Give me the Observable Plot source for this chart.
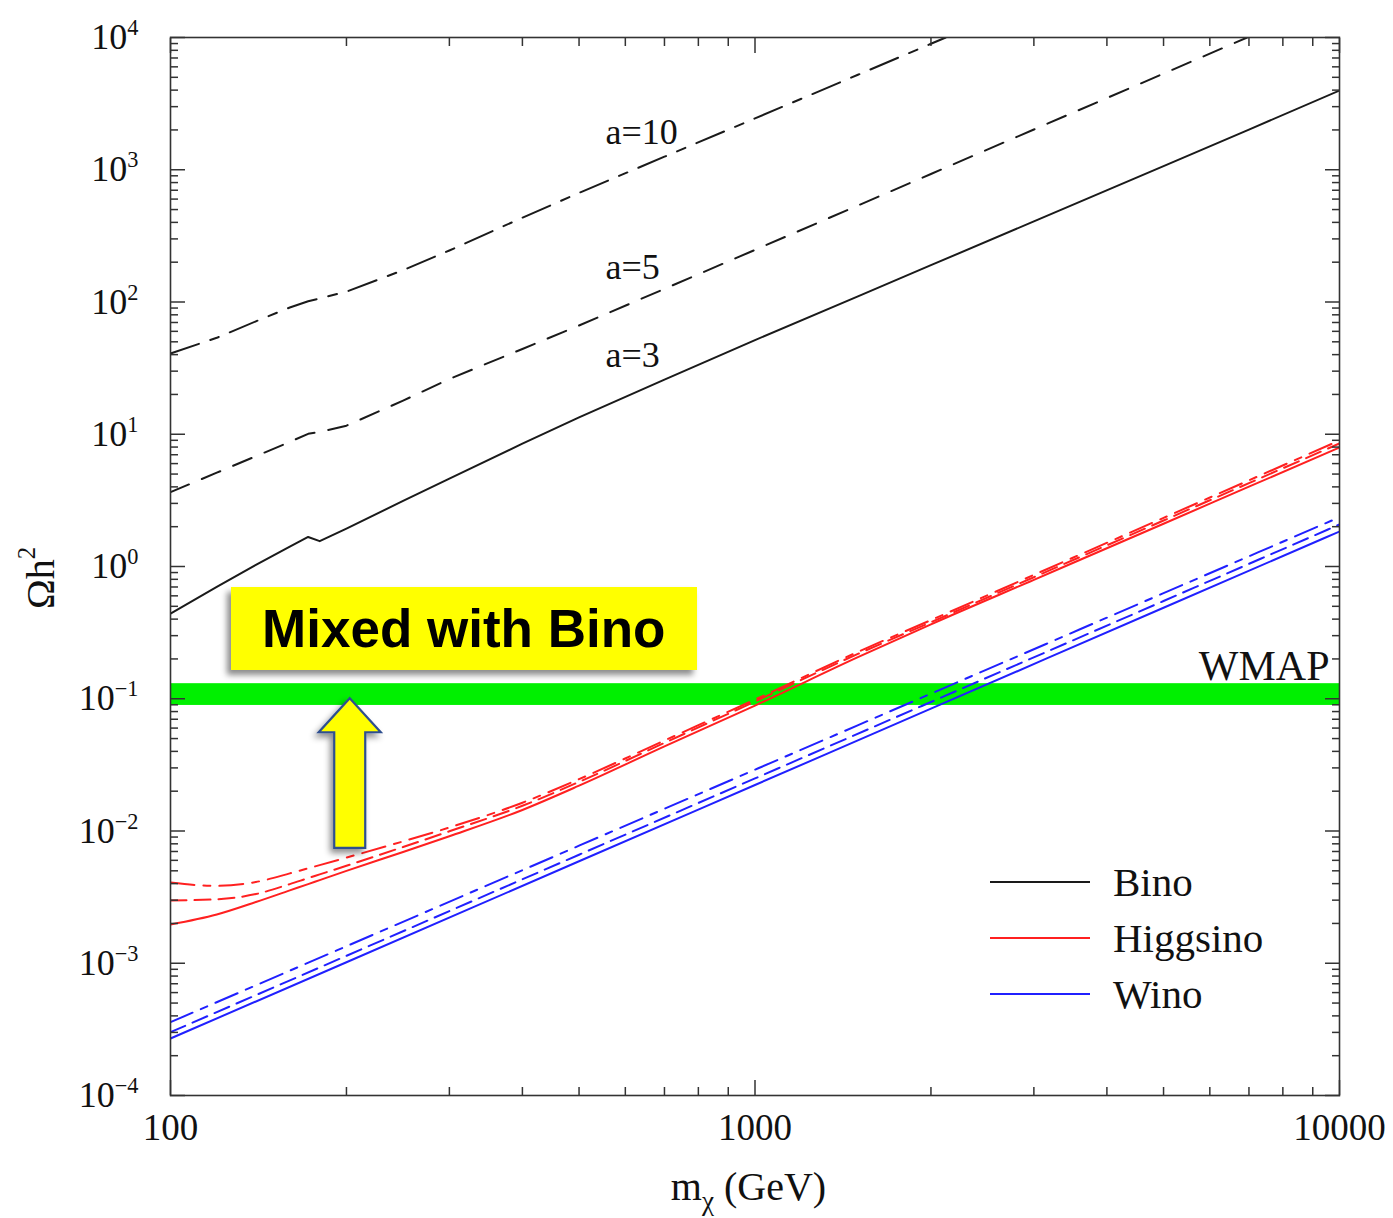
<!DOCTYPE html>
<html>
<head>
<meta charset="utf-8">
<script src="https://cdn.jsdelivr.net/npm/d3@7"></script>
<script src="https://cdn.jsdelivr.net/npm/@observablehq/plot@0.6"></script>
<style>
  html, body { margin: 0; padding: 0; background: #fff; }
  #chart { position: relative; width: 1393px; height: 1218px; }
  #chart svg { display: block; }
  .callout {
    position: absolute;
    background: #ffff00;
    box-shadow: -4px 5px 6px rgba(0, 0, 0, 0.45);
    font: bold 53px "Liberation Sans", Arial, sans-serif;
    color: #000;
    display: flex; align-items: center; justify-content: center;
    white-space: nowrap;
  }
</style>
</head>
<body>
<div id="chart"></div>
<script>
// Relic abundance Omega h^2 versus neutralino mass m_chi (GeV), for three
// enhancement factors a = 3, 5, 10 of a pure Bino, Higgsino and Wino.
// Each series: [mass (GeV), Omega h^2].

const binoA3 = [
  [100, 0.441], [120, 0.701], [140, 1.03], [160, 1.416], [172, 1.672], [180, 1.554],
  [200, 1.934], [250, 3.133], [300, 4.618], [400, 8.486], [500, 13.43], [700, 25.9],
  [1000, 51.5], [1500, 110.4], [2000, 189.8], [3000, 406.9], [5000, 1064], [7000, 2012], [10000, 3974]
];
const binoA5 = [
  [100, 3.646], [120, 5.12], [140, 6.823], [160, 8.755], [172, 10.08], [180, 10.4],
  [200, 11.61], [250, 17.96], [300, 26.17], [400, 44.13], [500, 66.42], [700, 125.7],
  [1000, 247.7], [1500, 536.6], [2000, 928.8], [3000, 2015], [5000, 5333], [6950, 10000]
];
const binoA10 = [
  [100, 40.78], [120, 53.62], [140, 71.46], [160, 90.87], [172, 101.2], [180, 106.3],
  [200, 119.8], [250, 174.0], [300, 245.1], [400, 434.0], [500, 668.3], [700, 1255],
  [1000, 2445], [1500, 5224], [2000, 8963], [2120, 10000]
];

const higgsinoA3 = [
  [100, 0.001963], [120, 0.002336], [140, 0.002904], [160, 0.003556], [172, 0.003968], [180, 0.004253],
  [200, 0.004993], [250, 0.006938], [300, 0.009135], [400, 0.01442], [500, 0.02201], [700, 0.04362],
  [1000, 0.08874], [1500, 0.2062], [2000, 0.3655], [3000, 0.7931], [5000, 2.106], [7000, 4.012], [10000, 7.94]
];
const higgsinoA5 = [
  [100, 0.002981], [120, 0.003045], [140, 0.003334], [160, 0.003968], [172, 0.004404], [180, 0.004697],
  [200, 0.005456], [250, 0.007568], [300, 0.009947], [400, 0.01551], [500, 0.02351], [700, 0.04637],
  [1000, 0.09533], [1500, 0.2183], [2000, 0.3792], [3000, 0.8299], [5000, 2.227], [7000, 4.272], [10000, 8.513]
];
const higgsinoA10 = [
  [100, 0.004079], [120, 0.003846], [140, 0.004115], [160, 0.004779], [172, 0.005224], [180, 0.005523],
  [200, 0.006293], [250, 0.008344], [300, 0.01063], [400, 0.01637], [500, 0.02468], [700, 0.04834],
  [1000, 0.09854], [1500, 0.2261], [2000, 0.3934], [3000, 0.864], [5000, 2.331], [7000, 4.484], [10000, 8.967]
];

const winoA3 = [
  [100, 2.698e-4], [200, 1.018e-3], [500, 5.902e-3], [1000, 0.02228], [2000, 0.08409], [5000, 0.4873], [10000, 1.839]
];
const winoA5 = [
  [100, 3.011e-4], [200, 1.138e-3], [500, 6.617e-3], [1000, 0.02498], [2000, 0.09449], [5000, 0.5483], [10000, 2.078]
];
const winoA10 = [
  [100, 3.583e-4], [200, 1.345e-3], [500, 7.742e-3], [1000, 0.02908], [2000, 0.1092], [5000, 0.6284], [10000, 2.359]
];

// WMAP preferred range of Omega h^2
const wmapBand = [{lo: 0.089, hi: 0.13}];

// Axis ticks
const xMajor = [100, 1000, 10000];
const xMinor = [200, 300, 400, 500, 600, 700, 800, 900, 2000, 3000, 4000, 5000, 6000, 7000, 8000, 9000];
const yExponents = [-4, -3, -2, -1, 0, 1, 2, 3, 4];

// Curve labels and legend entries
const curveLabels = ["a=10", "a=5", "a=3"];
const curveLabelAnchors = [[555, 1930], [555, 184], [555, 39.1]];
const legendNames = ["Bino", "Higgsino", "Wino"];
const legendColors = ["#1a1a1a", "#ff2020", "#2020ff"];

// Callout: "Mixed with Bino" box and an arrow pointing up to the WMAP band
const calloutText = "Mixed with Bino";
const calloutBox = {m1: 127, m2: 797, lo: 0.164, hi: 0.694};
const calloutArrow = {m: 203, tip: 0.1, base: 0.0074};

// ---------------------------------------------------------------------------

const yMajor = yExponents.map(e => Math.pow(10, e));
const yMinor = yExponents.slice(0, -1).flatMap(e => d3.range(2, 10).map(k => k * Math.pow(10, e)));

const SERIF = "'Liberation Serif', 'Times New Roman', serif";
const DASH = "16,8";
const DASHDOT = "24,9,7,9";

const curve = (data, stroke, dash, shape = "monotone-x") =>
  Plot.line(data, {x: d => d[0], y: d => d[1], stroke, strokeWidth: 2,
    strokeDasharray: dash, curve: shape, clip: true});

const tickStyle = {stroke: "#333", strokeWidth: 1.5, tickFormat: () => "", label: null};

const plot = Plot.plot({
  width: 1393,
  height: 1218,
  marginLeft: 170,
  marginRight: 54,
  marginTop: 37,
  marginBottom: 123,
  x: {type: "log", domain: [100, 10000]},
  y: {type: "log", domain: [1e-4, 1e4]},
  style: {fontFamily: SERIF, background: "#fff", color: "#111"},
  marks: [
    Plot.rect(wmapBand, {x1: 100, x2: 10000, y1: "lo", y2: "hi", fill: "#00f000"}),
    Plot.text(wmapBand, {x: 10000, y: "hi", text: () => "WMAP", textAnchor: "end",
      lineAnchor: "bottom", dx: -10, dy: -4, fontSize: 42, fill: "#111"}),

    curve(winoA10, "#2020ff", DASHDOT),
    curve(winoA5, "#2020ff", DASH),
    curve(winoA3, "#2020ff", null),
    curve(higgsinoA10, "#ff2020", DASHDOT),
    curve(higgsinoA5, "#ff2020", DASH),
    curve(higgsinoA3, "#ff2020", null),
    curve(binoA10, "#1a1a1a", "30,12,9,12", "linear"),
    curve(binoA5, "#1a1a1a", "20,14", "linear"),
    curve(binoA3, "#1a1a1a", null, "linear"),

    Plot.text(curveLabels, {x: (d, i) => curveLabelAnchors[i][0], y: (d, i) => curveLabelAnchors[i][1],
      text: d => d, textAnchor: "start", fontSize: 36, fill: "#111"}),

    Plot.frame({stroke: "#333", strokeWidth: 1.6}),

    // inward ticks on all four sides
    Plot.axisX(xMajor, {anchor: "bottom", tickSize: -15, ...tickStyle}),
    Plot.axisX(xMinor, {anchor: "bottom", tickSize: -8, ...tickStyle}),
    Plot.axisX(xMajor, {anchor: "top", tickSize: -15, ...tickStyle}),
    Plot.axisX(xMinor, {anchor: "top", tickSize: -8, ...tickStyle}),
    Plot.axisY(yMajor, {anchor: "left", tickSize: -15, ...tickStyle}),
    Plot.axisY(yMinor, {anchor: "left", tickSize: -8, ...tickStyle}),
    Plot.axisY(yMajor, {anchor: "right", tickSize: -15, ...tickStyle}),
    Plot.axisY(yMinor, {anchor: "right", tickSize: -8, ...tickStyle}),

    // tick labels
    Plot.axisX(xMajor, {anchor: "bottom", tickSize: 0, tickPadding: 18, fontSize: 37,
      tickFormat: d => String(d), label: null, fill: "#111"}),
    Plot.axisY(yMajor, {anchor: "left", tickSize: 0, tickPadding: 32, fontSize: 36,
      tickFormat: d => { const e = Math.round(Math.log10(d)); return e < 0 ? "\u2212" + (-e) : String(e); },
      label: null, fill: "#111"})
  ]
});

const chart = document.getElementById("chart");
chart.appendChild(plot);

const xs = plot.scale("x"), ys = plot.scale("y");
const svg = d3.select(plot);

// drop the empty texts of the tick-only axes
svg.selectAll('g[aria-label$="-axis tick label"] text').each(function () {
  if (this.textContent === "") this.remove();
});

// "10" with a raised exponent on the y tick labels
svg.selectAll('g[aria-label="y-axis tick label"] text').each(function () {
  const t = d3.select(this);
  const exp = t.text();
  t.text("");
  t.append("tspan").text("10");
  t.append("tspan").attr("dy", "-0.62em").attr("font-size", "0.62em").text(exp);
});

// axis titles
const fx = (xs.range[0] + xs.range[1]) / 2;
const xTitle = svg.append("text")
  .attr("x", fx - 6).attr("y", 1200)
  .attr("text-anchor", "middle").attr("font-family", SERIF).attr("font-size", 40).attr("fill", "#111");
xTitle.append("tspan").text("m");
xTitle.append("tspan").attr("dy", "0.35em").attr("font-size", "0.68em").text("\u03C7");
xTitle.append("tspan").attr("dy", "-0.24em").text(" (GeV)");

const fy = (ys.range[0] + ys.range[1]) / 2;
const yTitle = svg.append("text")
  .attr("transform", `translate(54, ${fy + 12}) rotate(-90)`)
  .attr("text-anchor", "middle").attr("font-family", SERIF).attr("font-size", 40).attr("fill", "#111");
yTitle.append("tspan").text("\u03A9h");
yTitle.append("tspan").attr("dy", "-0.75em").attr("font-size", "0.62em").text("2");

// legend, lower right inside the frame
const legend = svg.append("g").attr("font-family", SERIF).attr("font-size", 41)
  .attr("fill", "#111").attr("text-anchor", "start");
legendNames.forEach((name, i) => {
  const y = 882 + i * 56;
  legend.append("line").attr("x1", 990).attr("x2", 1090).attr("y1", y).attr("y2", y)
    .attr("stroke", legendColors[i]).attr("stroke-width", 2);
  legend.append("text").attr("x", 1113).attr("y", y + 14).text(name);
});

// arrow pointing to the WMAP band
const defs = svg.append("defs");
defs.append("filter").attr("id", "arrow-shadow").attr("x", "-50%").attr("y", "-20%")
  .attr("width", "200%").attr("height", "150%")
  .append("feDropShadow").attr("dx", -3).attr("dy", 4).attr("stdDeviation", 3)
  .attr("flood-color", "#000").attr("flood-opacity", 0.45);
const ax = xs.apply(calloutArrow.m), aTip = ys.apply(calloutArrow.tip), aBase = ys.apply(calloutArrow.base);
const headH = 34, headW = 31, shaftW = 15.5;
svg.append("path")
  .attr("d", `M${ax},${aTip} L${ax + headW},${aTip + headH} L${ax + shaftW},${aTip + headH}
              L${ax + shaftW},${aBase} L${ax - shaftW},${aBase} L${ax - shaftW},${aTip + headH}
              L${ax - headW},${aTip + headH} Z`)
  .attr("fill", "#ffff00").attr("stroke", "#2f4f8f").attr("stroke-width", 2.2)
  .attr("stroke-linejoin", "miter").attr("filter", "url(#arrow-shadow)");

// yellow callout box
const bx1 = xs.apply(calloutBox.m1), bx2 = xs.apply(calloutBox.m2);
const by1 = ys.apply(calloutBox.hi), by2 = ys.apply(calloutBox.lo);
const box = document.createElement("div");
box.className = "callout";
box.style.left = bx1 + "px";
box.style.top = by1 + "px";
box.style.width = (bx2 - bx1) + "px";
box.style.height = (by2 - by1) + "px";
box.textContent = calloutText;
chart.appendChild(box);
</script>
</body>
</html>
